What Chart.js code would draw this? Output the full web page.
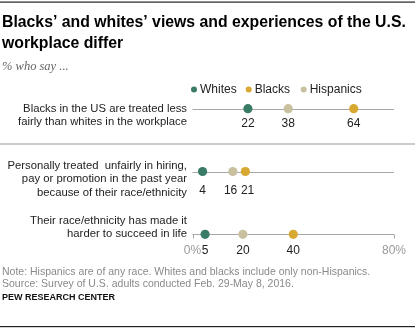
<!DOCTYPE html>
<html>
<head>
<meta charset="utf-8">
<script src="https://cdn.jsdelivr.net/npm/chart.js@4/dist/chart.umd.min.js"></script>
<style>
  html, body { margin: 0; padding: 0; background: #fff; }
  #wrap { width: 420px; height: 333px; position: relative; }
</style>
</head>
<body>
<div id="wrap"><canvas id="chart"></canvas></div>
<script>
const categories = [
  ['Blacks in the US are treated less', 'fairly than whites in the workplace'],
  ['Personally treated  unfairly in hiring,', 'pay or promotion in the past year', 'because of their race/ethnicity'],
  ['Their race/ethnicity has made it', 'harder to succeed in life']
];
const seriesNames = ['Whites', 'Blacks', 'Hispanics'];
const whites = [22, 4, 5];
const blacks = [64, 21, 40];
const hispanics = [38, 16, 20];
const xTickLabels = ['0%', '80%'];
const xTickValues = [0, 80];

const colors = { Whites: '#3a7b68', Blacks: '#d8a932', Hispanics: '#c9c0a0' };
const FONT = '"Liberation Sans", Arial, sans-serif';

// first-line offset of each row label, relative to the row line
const labelStart = [0, -5.5, -13.5];
const valueOffset = [15, 19, 16];

function pts(vals) {
  return vals.map((v, i) => ({ x: v, y: i }));
}

const decor = {
  id: 'decor',
  beforeDatasetsDraw(chart) {
    const ctx = chart.ctx;
    const xs = chart.scales.x, ys = chart.scales.y;
    ctx.save();
    // top rule
    ctx.fillStyle = '#222';
    ctx.fillRect(0, 1.5, 415, 1.2);
    // title
    ctx.fillStyle = '#000';
    ctx.font = 'bold 15.8px ' + FONT;
    ctx.textBaseline = 'middle';
    ctx.textAlign = 'left';
    ctx.fillText('Blacks’ and whites’ views and experiences of the U.S.', 2, 23);
    ctx.fillText('workplace differ', 2, 43.5);
    ctx.fillStyle = '#666';
    ctx.font = 'italic 12.5px "Liberation Serif", Georgia, serif';
    ctx.fillText('% who say ...', 2, 67);

    // legend
    const legX = [xs.getPixelForValue(0) + 1.5, 248.7, 303.7];
    ctx.font = '12px ' + FONT;
    seriesNames.forEach((n, i) => {
      ctx.fillStyle = colors[n];
      ctx.beginPath();
      ctx.arc(legX[i], 89.5, 3, 0, Math.PI * 2);
      ctx.fill();
      ctx.fillStyle = '#222';
      ctx.fillText(n, legX[i] + 6, 89.5);
    });

    // row lines and labels
    const x0 = xs.getPixelForValue(0), x1 = xs.getPixelForValue(80);
    categories.forEach((lines, i) => {
      const y = ys.getPixelForValue(i);
      ctx.strokeStyle = '#a8a8a8';
      ctx.lineWidth = 1;
      ctx.beginPath();
      ctx.moveTo(x0, Math.round(y) + 0.5);
      ctx.lineTo(x1, Math.round(y) + 0.5);
      ctx.stroke();
      ctx.fillStyle = '#222';
      ctx.textAlign = 'right';
      ctx.font = '11.3px ' + FONT;
      lines.forEach((t, k) => ctx.fillText(t, 187, y + labelStart[i] + k * 13.3));
    });

    // separator
    ctx.fillStyle = '#9a9a9a';
    ctx.fillRect(0, 143.5, 415, 1);

    // end ticks on the last row
    const yl = Math.round(ys.getPixelForValue(categories.length - 1)) + 0.5;
    ctx.strokeStyle = '#a8a8a8';
    ctx.beginPath();
    [x0, x1].forEach(x => { ctx.moveTo(Math.round(x) + 0.5, yl); ctx.lineTo(Math.round(x) + 0.5, yl + 4); });
    ctx.stroke();

    ctx.restore();
  },
  afterDatasetsDraw(chart) {
    const ctx = chart.ctx;
    const xs = chart.scales.x, ys = chart.scales.y;
    ctx.save();
    ctx.textBaseline = 'middle';
    ctx.font = '12px ' + FONT;

    // axis tick labels
    ctx.fillStyle = '#9a9a9a';
    ctx.textAlign = 'center';
    const yAxis = ys.getPixelForValue(categories.length - 1) + 16;
    xTickValues.forEach((v, i) => ctx.fillText(xTickLabels[i], xs.getPixelForValue(v), yAxis));

    // value labels, pushed apart when they would touch
    ctx.fillStyle = '#222';
    categories.forEach((c, i) => {
      const labs = [whites[i], blacks[i], hispanics[i]]
        .map(v => ({ v, x: xs.getPixelForValue(v) }))
        .sort((a, b) => a.x - b.x);
      for (let k = 1; k < labs.length; k++) {
        const gap = labs[k].x - labs[k - 1].x;
        if (gap < 17) { labs[k - 1].x -= (17 - gap) / 2; labs[k].x += (17 - gap) / 2; }
      }
      labs.forEach(l => ctx.fillText(String(l.v), l.x, ys.getPixelForValue(i) + valueOffset[i]));
    });

    // notes
    ctx.textAlign = 'left';
    ctx.fillStyle = '#8a8a8a';
    ctx.font = '10.5px ' + FONT;
    ctx.fillText('Note: Hispanics are of any race. Whites and blacks include only non-Hispanics.', 2, 272.5);
    ctx.fillText('Source: Survey of U.S. adults conducted Feb. 29-May 8, 2016.', 2, 284);
    ctx.fillStyle = '#111';
    ctx.font = 'bold 9px ' + FONT;
    ctx.fillText('PEW RESEARCH CENTER', 2, 297.5);
    ctx.fillStyle = '#222';
    ctx.fillRect(0, 326, 415, 1.2);
    ctx.restore();
  }
};

const mk = (name, vals) => ({
  label: name,
  data: pts(vals),
  backgroundColor: colors[name],
  borderWidth: 0,
  pointRadius: 4.6,
  pointHoverRadius: 4.6,
  clip: false
});

new Chart(document.getElementById('chart'), {
  type: 'scatter',
  data: {
    datasets: [mk('Whites', whites), mk('Hispanics', hispanics), mk('Blacks', blacks)]
  },
  options: {
    responsive: true,
    maintainAspectRatio: false,
    animation: false,
    events: [],
    layout: { padding: { left: 192.5, right: 26, top: 108.7, bottom: 98.7 } },
    plugins: { legend: { display: false }, tooltip: { enabled: false } },
    scales: {
      x: { type: 'linear', min: 0, max: 80, display: false },
      y: { type: 'linear', min: 0, max: 2, reverse: true, display: false }
    }
  },
  plugins: [decor]
});
</script>
</body>
</html>
